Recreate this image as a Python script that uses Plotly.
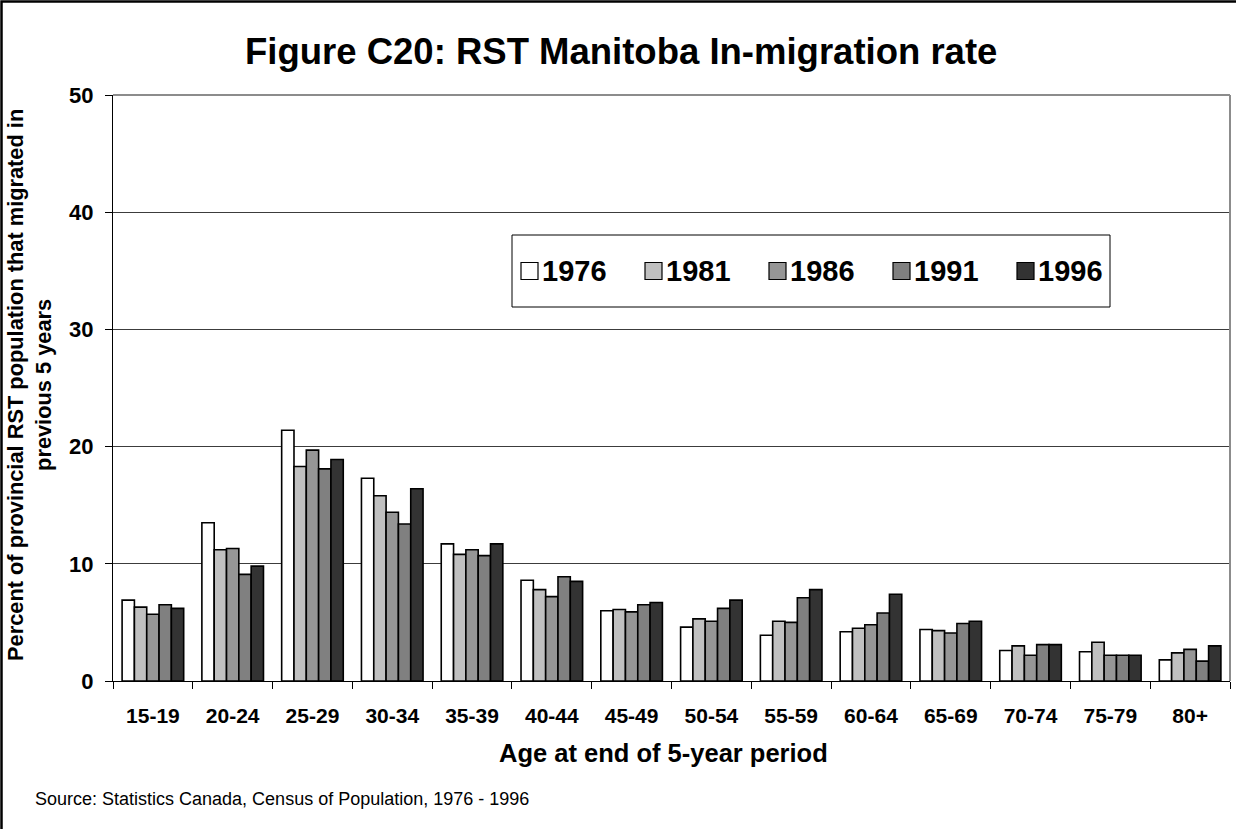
import plotly.graph_objects as go

# Age groups (age at end of the 5-year period)
age_groups = ["15-19", "20-24", "25-29", "30-34", "35-39", "40-44", "45-49",
              "50-54", "55-59", "60-64", "65-69", "70-74", "75-79", "80+"]

# In-migration rate (% of provincial RST population) by census year
rate_1976 = [6.9, 13.5, 21.4, 17.3, 11.7, 8.6, 6.0, 4.6, 3.9, 4.2, 4.4, 2.6, 2.5, 1.8]
rate_1981 = [6.3, 11.2, 18.3, 15.8, 10.8, 7.8, 6.1, 5.3, 5.1, 4.5, 4.3, 3.0, 3.3, 2.4]
rate_1986 = [5.7, 11.3, 19.7, 14.4, 11.2, 7.2, 5.9, 5.1, 5.0, 4.8, 4.1, 2.2, 2.2, 2.7]
rate_1991 = [6.5, 9.1, 18.1, 13.4, 10.7, 8.9, 6.5, 6.2, 7.1, 5.8, 4.9, 3.1, 2.2, 1.7]
rate_1996 = [6.2, 9.8, 18.9, 16.4, 11.7, 8.5, 6.7, 6.9, 7.8, 7.4, 5.1, 3.1, 2.2, 3.0]

years = ["1976", "1981", "1986", "1991", "1996"]
series = [rate_1976, rate_1981, rate_1986, rate_1991, rate_1996]
colors = ["#FFFFFF", "#C0C0C0", "#969696", "#808080", "#333333"]

W, H = 1236, 829
ML, MR, MT, MB = 113, 6, 95, 148
PW, PH = W - ML - MR, H - MT - MB
FONT = "Arial, Liberation Sans, sans-serif"


def px_x(x):
    return (x - ML) / PW


def px_y(y):
    return (H - MB - y) / PH


fig = go.Figure()
for year, vals, col in zip(years, series, colors):
    fig.add_trace(go.Bar(
        x=age_groups, y=vals, name=year, showlegend=False,
        marker=dict(color=col, line=dict(color="#000000", width=1.6)),
    ))

fig.update_layout(
    width=W, height=H,
    margin=dict(l=ML, r=MR, t=MT, b=MB, pad=0),
    paper_bgcolor="white", plot_bgcolor="white",
    barmode="group", bargap=0.228, bargroupgap=0,
    font=dict(family=FONT, color="#000000"),
    xaxis=dict(
        type="category", showgrid=False, showline=True, linecolor="#000000",
        linewidth=1, ticks="outside", tickson="boundaries", ticklen=7,
        tickcolor="#000000", tickwidth=1,
        tickfont=dict(size=21, family=FONT, weight="bold"),
        ticklabelstandoff=16,
    ),
    yaxis=dict(
        range=[0, 50], tickvals=[0, 10, 20, 30, 40, 50],
        showgrid=True, gridcolor="#3c3c3c", gridwidth=1,
        showline=True, linecolor="#000000", linewidth=1,
        ticks="outside", ticklen=7, tickcolor="#000000", tickwidth=1,
        tickfont=dict(size=22, family=FONT, weight="bold"),
        ticklabelstandoff=7, zeroline=False,
    ),
)

shapes = []
# plot-area frame on top and right
shapes.append(dict(type="line", xref="paper", yref="paper", x0=0, x1=1, y0=1, y1=1,
                   line=dict(color="#8c8c8c", width=2)))
shapes.append(dict(type="line", xref="paper", yref="paper", x0=1, x1=1, y0=0, y1=1,
                   line=dict(color="#8c8c8c", width=2)))
# outer chart frame
shapes.append(dict(type="rect", xref="paper", yref="paper",
                   x0=px_x(1.5), x1=px_x(1245), y0=px_y(840), y1=px_y(1.5),
                   line=dict(color="#000000", width=2.5), layer="above"))

# legend box
shapes.append(dict(type="rect", xref="paper", yref="paper",
                   x0=px_x(512), x1=px_x(1110), y0=px_y(307), y1=px_y(235),
                   line=dict(color="#000000", width=1), fillcolor="white", layer="above"))

annotations = []
leg_start = 521
leg_step = 124
sq = 17
cy = 271
for i, (year, col) in enumerate(zip(years, colors)):
    x0 = leg_start + i * leg_step
    shapes.append(dict(type="rect", xref="paper", yref="paper",
                       x0=px_x(x0), x1=px_x(x0 + sq), y0=px_y(cy + sq / 2), y1=px_y(cy - sq / 2),
                       line=dict(color="#000000", width=1.2), fillcolor=col, layer="above"))
    annotations.append(dict(text=f"<b>{year}</b>", xref="paper", yref="paper",
                            x=px_x(x0 + sq + 2), y=px_y(cy), xanchor="left", yanchor="middle",
                            showarrow=False, font=dict(size=29, family=FONT)))

annotations.append(dict(text="<b>Figure C20: RST Manitoba In-migration rate</b>",
                        xref="paper", yref="paper", x=px_x(620.5), y=px_y(52),
                        xanchor="center", yanchor="middle", showarrow=False,
                        font=dict(size=36.5, family=FONT)))
annotations.append(dict(text="<b>Age at end of 5-year period</b>",
                        xref="paper", yref="paper", x=px_x(663), y=px_y(753),
                        xanchor="center", yanchor="middle", showarrow=False,
                        font=dict(size=25.5, family=FONT)))
annotations.append(dict(text="<b>Percent of provincial RST population that migrated in<br>previous 5 years</b>",
                        xref="paper", yref="paper", x=px_x(29), y=px_y(385),
                        xanchor="center", yanchor="middle", textangle=-90, showarrow=False,
                        font=dict(size=21.8, family=FONT)))
annotations.append(dict(text="Source: Statistics Canada, Census of Population, 1976 - 1996",
                        xref="paper", yref="paper", x=px_x(33), y=px_y(799),
                        xanchor="left", yanchor="middle", showarrow=False,
                        font=dict(size=18, family=FONT)))

fig.update_layout(shapes=shapes, annotations=annotations)
fig.write_html("out.html")
